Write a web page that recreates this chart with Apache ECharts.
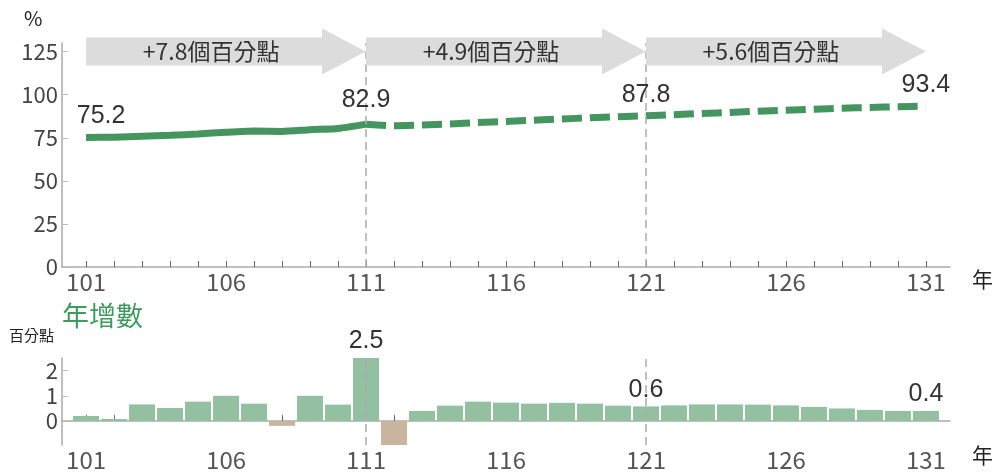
<!DOCTYPE html>
<html>
<head>
<meta charset="utf-8">
<script src="https://cdn.jsdelivr.net/npm/echarts@6/dist/echarts.min.js"></script>
<style>
  html, body { margin: 0; padding: 0; background: #fff; }
  #chart { width: 997px; height: 474px; }
</style>
</head>
<body>
<div id="chart"></div>
<script>
// 年度（民國）
const years = [101, 102, 103, 104, 105, 106, 107, 108, 109, 110, 111, 112, 113, 114, 115, 116,
  117, 118, 119, 120, 121, 122, 123, 124, 125, 126, 127, 128, 129, 130, 131];
// 比率 (%)：101–111 實際值，111 之後為推估
const shareValues = [75.2, 75.3, 75.9, 76.4, 77.2, 78.2, 78.9, 78.7, 79.7, 80.4, 82.9,
  82.0, 82.4, 83.0, 83.8, 84.5, 85.2, 85.9, 86.6, 87.2, 87.8,
  88.4, 89.1, 89.7, 90.4, 91.0, 91.6, 92.2, 92.6, 93.0, 93.4];
// 年增數（百分點）
const annualChange = [0.2, 0.08, 0.66, 0.52, 0.77, 1.0, 0.69, -0.19, 1.0, 0.65, 2.5,
  -0.95, 0.4, 0.61, 0.77, 0.73, 0.69, 0.72, 0.69, 0.61, 0.58,
  0.62, 0.66, 0.66, 0.65, 0.62, 0.56, 0.5, 0.44, 0.4, 0.4];
const actualLastYear = 111;
const labelYears = [101, 111, 121, 131];
const splitYears = [111, 121];
const xLabelYears = [101, 106, 111, 116, 121, 126, 131];
const yTicksTop = [0, 25, 50, 75, 100, 125];
const yTicksBottom = [0, 1, 2];
// 區段箭頭
const arrowFrom = [101, 111, 121];
const arrowTo = [111, 121, 131];
const arrowText = ['+7.8個百分點', '+4.9個百分點', '+5.6個百分點'];

const FONT = 'Noto Sans CJK TC';
const NUM_FONT = 'Liberation Sans';
const GREEN = '#44955f';
const BAR_GREEN = '#93c0a1';
const BAR_BROWN = '#c9b49e';

// 折線數值標籤（只標 101、111、121、131）
const lineLabelData = years
  .map((y, i) => [y, shareValues[i]])
  .filter(([y]) => labelYears.includes(y))
  .map(([y, v]) => ({
    coord: [y, v], value: v,
    label: { offset: y === 101 ? [15, 0] : (y === 111 ? [0, -3] : [0, 0]) },
  }));

const lineData = (from, to) => years
  .map((y, i) => [y, shareValues[i]])
  .filter(([y]) => y >= from && y <= to);

const barData = years.map((y, i) => ({
  value: [y, annualChange[i]],
  itemStyle: { color: annualChange[i] < 0 ? BAR_BROWN : BAR_GREEN },
  label: labelYears.includes(y) && y !== 101 ? {
    show: true, position: 'top', distance: 4,
    formatter: annualChange[i].toFixed(1), fontSize: 25, color: '#333', fontFamily: NUM_FONT,
  } : { show: false },
}));

const xAxisCommon = {
  type: 'value', min: 100.14, max: 131.86,
  axisLine: { lineStyle: { color: '#aaa', width: 1.5 } },
  axisTick: { inside: true, length: 6, customValues: years, lineStyle: { color: '#666' } },
  axisLabel: { customValues: xLabelYears, fontSize: 24, color: '#555', margin: 3, fontFamily: FONT },
  splitLine: { show: false },
};

const markSplit = {
  silent: true, symbol: 'none', label: { show: false },
  lineStyle: { color: '#aaa', type: [8, 5], width: 1.5 },
  data: splitYears.map(y => ({ xAxis: y })),
};

const chart = echarts.init(document.getElementById('chart'));
chart.setOption({
  animation: false,
  textStyle: { fontFamily: FONT },
  grid: [
    { left: 62, right: 47, top: 43, height: 224 },
    { left: 62, right: 47, top: 358, height: 87 },
  ],
  xAxis: [
    { ...xAxisCommon, gridIndex: 0 },
    { ...xAxisCommon, gridIndex: 1 },
  ],
  yAxis: [
    {
      gridIndex: 0, type: 'value', min: 0, max: 130,
      axisLine: { show: true, lineStyle: { color: '#aaa', width: 1.5 } },
      axisTick: { show: true, inside: true, length: 6, customValues: yTicksTop, lineStyle: { color: '#bbb' } },
      axisLabel: { customValues: yTicksTop, fontSize: 22, color: '#444', margin: 4 },
      splitLine: { show: false },
    },
    {
      gridIndex: 1, type: 'value', min: -0.95, max: 2.5,
      axisLine: { show: true, lineStyle: { color: '#aaa', width: 1.5 } },
      axisTick: { show: true, inside: true, length: 6, customValues: yTicksBottom, lineStyle: { color: '#bbb' } },
      axisLabel: { customValues: yTicksBottom, fontSize: 22, color: '#444', margin: 4 },
      splitLine: { show: false },
    },
  ],
  series: [
    {
      type: 'line', xAxisIndex: 0, yAxisIndex: 0, z: 3,
      data: lineData(101, actualLastYear),
      smooth: 0.2, showSymbol: false, symbol: 'none',
      lineStyle: { color: GREEN, width: 7 },
      markLine: markSplit,
      markPoint: {
        symbol: 'circle', symbolSize: 1, silent: true,
        itemStyle: { color: 'transparent' },
        label: {
          show: true, position: 'top', distance: 8,
          formatter: p => p.value.toFixed(1),
          fontSize: 25, color: '#333', fontFamily: NUM_FONT,
        },
        data: lineLabelData,
      },
    },
    {
      type: 'line', xAxisIndex: 0, yAxisIndex: 0, z: 3,
      data: lineData(actualLastYear, 131),
      smooth: 0.2, showSymbol: false, symbol: 'none',
      lineStyle: { color: GREEN, width: 7, type: [20, 8], cap: 'butt' },
    },
    {
      // 區段增幅箭頭
      type: 'custom', xAxisIndex: 0, yAxisIndex: 0, z: 10, silent: true, clip: false,
      data: arrowFrom.map((f, i) => [f, arrowTo[i], i]),
      renderItem: (params, api) => {
        const x0 = api.coord([api.value(0), 125])[0];
        const x1 = api.coord([api.value(1), 125])[0];
        const yc = api.coord([0, 125])[1];
        const head = 44;
        const pts = [
          [x0, yc - 14], [x1 - head, yc - 14], [x1 - head, yc - 23], [x1, yc],
          [x1 - head, yc + 23], [x1 - head, yc + 14], [x0, yc + 14],
        ];
        return {
          type: 'group',
          children: [
            { type: 'polygon', shape: { points: pts }, style: { fill: '#dcdcdc' } },
            {
              type: 'text',
              style: {
                x: (x0 + x1 - 30) / 2, y: yc, text: arrowText[api.value(2)],
                align: 'center', verticalAlign: 'middle',
                fontSize: 23, fill: '#333', fontFamily: FONT,
              },
            },
          ],
        };
      },
    },
    {
      type: 'bar', xAxisIndex: 1, yAxisIndex: 1,
      data: barData, barWidth: 26,
      markLine: { ...markSplit, z: 5 },
    },
  ],
  graphic: [
    { type: 'text', left: 24, top: 8, style: { text: '%', fontSize: 20, fill: '#222', fontFamily: FONT } },
    { type: 'text', left: 972, top: 269, style: { text: '年', fontSize: 21, fill: '#222', fontFamily: FONT } },
    { type: 'text', left: 972, top: 445, style: { text: '年', fontSize: 21, fill: '#222', fontFamily: FONT } },
    { type: 'text', left: 62, top: 302, style: { text: '年增數', fontSize: 27, fill: '#3f9a5f', fontFamily: FONT } },
    { type: 'text', left: 9, top: 328, style: { text: '百分點', fontSize: 15, fill: '#222', fontFamily: FONT } },
  ],
});
</script>
</body>
</html>
